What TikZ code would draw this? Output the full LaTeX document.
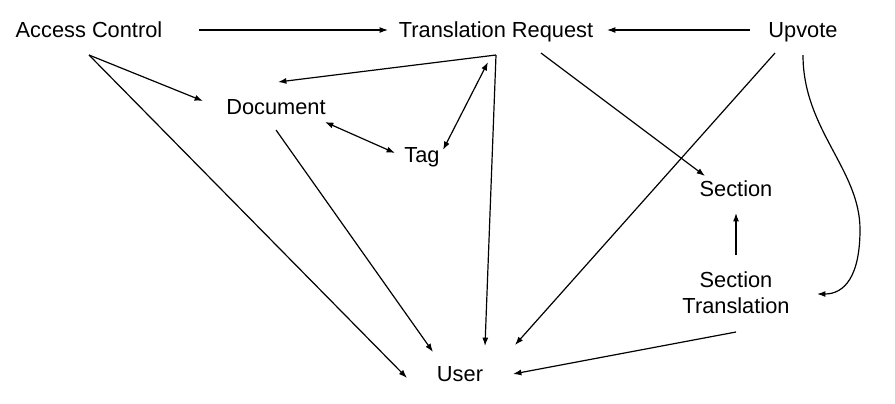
\documentclass[tikz,border=0pt]{standalone}
\usepackage{fontspec}
\setmainfont{Liberation Sans}
\usetikzlibrary{arrows.meta,calc}
\begin{document}
\begin{tikzpicture}[x=0.5pt,y=-0.5pt,
  lbl/.style={inner sep=0pt,outer sep=0pt,font=\fontsize{10.9}{13}\selectfont},
  arr/.style={line width=0.6pt,-{Latex[length=4.2pt,width=3pt]}},
  biarr/.style={line width=0.6pt,{Latex[length=4.2pt,width=3pt]}-{Latex[length=4.2pt,width=3pt]}}]
\useasboundingbox (0,0) rectangle (895,403);
\node[lbl,anchor=base] (ac) at (89,37.5) {Access Control};
\node[lbl,anchor=base] (tr) at (496,37.5) {Translation Request};
\node[lbl,anchor=base] (up) at (803,37.5) {Upvote};
\node[lbl,anchor=base] (doc) at (276,114) {Document};
\node[lbl,anchor=base] (tag) at (422,162) {Tag};
\node[lbl,anchor=base] (sec) at (736,196) {Section};
\node[lbl,align=center,anchor=center] (st) at (736,293) {Section\\Translation};
\node[lbl,anchor=base] (usr) at (460,381.5) {User};

\draw[arr] ($(ac.base)+(110,-7.5)$) -- ($(tr.base)+(-108,-7.5)$);
\draw[arr] ($(up.base)+(-53,-7.5)$) -- ($(tr.base)+(111,-7.5)$);
\draw[arr] ($(ac.base)+(0,17.5)$) -- ($(doc.base)+(-73,-13)$);
\draw[arr] ($(ac.base)+(0,17.5)$) -- ($(usr.base)+(-53,-3.5)$);
\draw[arr] ($(tr.base)+(0,17.5)$) -- ($(doc.base)+(2,-32)$);
\draw[biarr] ($(tr.base)+(-8,24.5)$) -- ($(tag.base)+(21,-12)$);
\draw[biarr] ($(doc.base)+(49,8)$) -- ($(tag.base)+(-27,-9)$);
\draw[arr] ($(tr.base)+(0,17.5)$) -- ($(usr.base)+(25,-35.5)$);
\draw[arr] ($(tr.base)+(45,15.5)$) -- ($(sec.base)+(-31,-20)$);
\draw[arr] ($(up.base)+(-28,15.5)$) -- ($(usr.base)+(55,-36.5)$);
\draw[arr] ($(up.base)+(0,17.5)$) .. controls ($(up.base)+(0,92)$) and ($(up.base)+(57,132)$) .. ($(up.base)+(57,192)$) .. controls ($(up.base)+(57,238)$) and ($(st.center)+(109,1)$) .. ($(st.center)+(81,1)$);
\draw[arr] ($(st.center)+(0,-38)$) -- ($(sec.base)+(0,17)$);
\draw[arr] ($(st.center)+(0,39)$) -- ($(usr.base)+(53,-7.5)$);
\draw[arr] ($(doc.base)+(0,16)$) -- ($(usr.base)+(-27,-29.5)$);
\end{tikzpicture}
\end{document}
